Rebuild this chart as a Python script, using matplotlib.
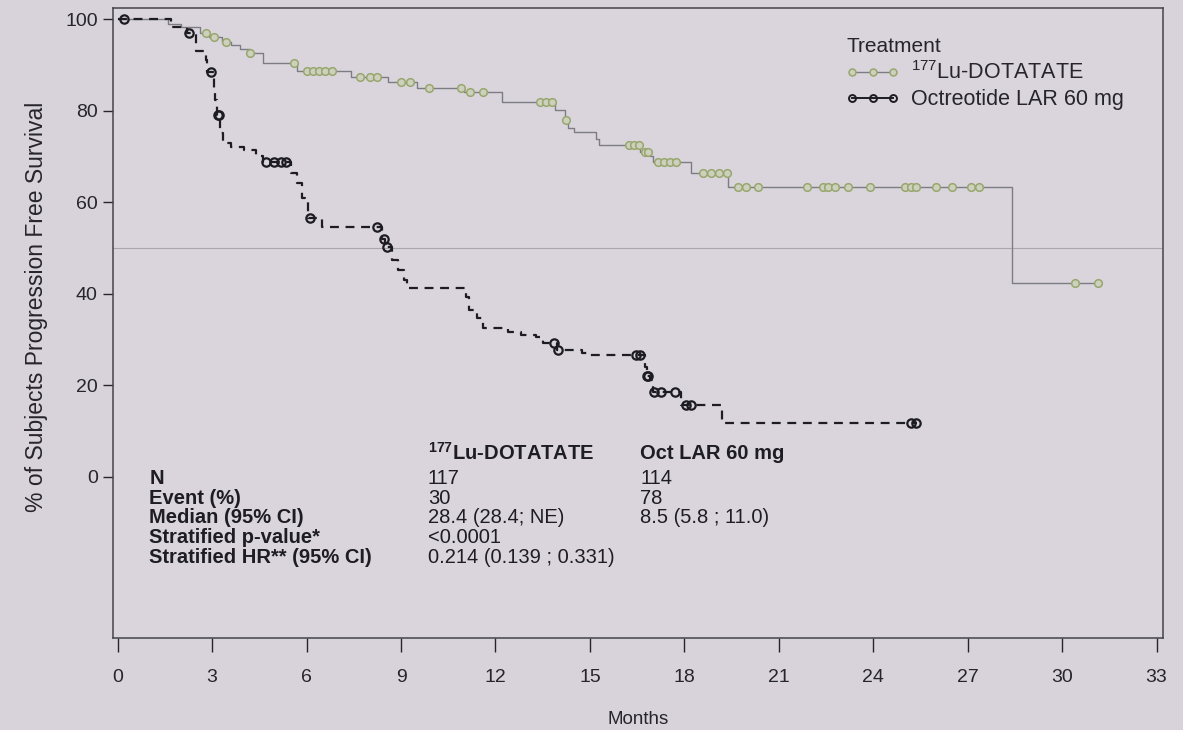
import numpy as np
import matplotlib.pyplot as plt
from matplotlib.lines import Line2D

plt.rcParams['font.family'] = ['Liberation Sans', 'DejaVu Sans']
plt.rcParams['mathtext.default'] = 'regular'

# Kaplan-Meier steps: (month, % progression free after the drop)
lu_times = [0, 1.6, 2.0, 2.6, 2.9, 3.3, 3.6, 3.9, 4.2, 4.6, 5.7, 7.4, 8.6, 9.5, 11.0,
            12.2, 13.9, 14.2, 14.3, 14.5, 15.2, 15.3, 16.6, 16.9, 17.0, 18.2, 19.4, 28.4]
lu_surv = [100, 99.0, 98.3, 97.0, 96.0, 95.0, 94.3, 93.5, 92.6, 90.4, 88.6, 87.3, 86.2, 85.0, 84.0,
           81.9, 80.1, 78.0, 76.2, 75.3, 73.7, 72.5, 71.0, 70.0, 68.8, 66.4, 63.3, 42.4]
lu_end = 31.2
lu_censor = [2.8, 3.05, 3.45, 4.2, 5.6, 6.0, 6.2, 6.4, 6.6, 6.8, 7.7, 8.0, 8.25, 9.0, 9.3,
             9.9, 10.9, 11.2, 11.6, 13.4, 13.6, 13.8, 14.25, 16.25, 16.4, 16.55, 16.75, 16.85,
             17.15, 17.35, 17.55, 17.75, 18.6, 18.85, 19.1, 19.35, 19.7, 19.95, 20.35, 21.9,
             22.4, 22.55, 22.8, 23.2, 23.9, 25.0, 25.2, 25.35, 26.0, 26.5, 27.1, 27.35, 30.4, 31.15]

oct_times = [0, 1.7, 2.2, 2.5, 2.8, 2.85, 3.05, 3.1, 3.15, 3.25, 3.35, 3.6, 4.0, 4.4, 4.6,
             5.5, 5.7, 5.85, 5.95, 6.05, 6.5, 8.4, 8.5, 8.7, 8.9, 9.1, 9.2, 11.05, 11.15, 11.4,
             11.6, 12.4, 12.8, 13.3, 13.5, 13.95, 14.75, 15.0, 16.75, 16.8, 16.9, 17.0, 17.9, 19.2]
oct_surv = [100, 98.3, 96.9, 93.0, 91.0, 88.4, 85.0, 82.3, 79.0, 75.0, 73.0, 72.0, 71.4, 70.0, 68.8,
            66.4, 64.2, 61.0, 60.0, 56.5, 54.6, 52.0, 50.2, 47.4, 45.2, 43.0, 41.3, 39.3, 36.5, 34.7,
            32.5, 31.7, 31.0, 30.6, 29.3, 27.7, 27.0, 26.6, 24.0, 22.0, 21.2, 18.6, 15.7, 11.8]
oct_end = 25.4
oct_censor = [0.2, 2.25, 2.95, 3.18, 3.22, 4.7, 4.95, 5.2, 5.35, 6.1, 8.25, 8.45, 8.55, 13.85,
              14.0, 16.45, 16.6, 16.8, 16.85, 17.05, 17.25, 17.7, 18.05, 18.2, 25.2, 25.35]

ticks_x = list(range(0, 34, 3))
ticks_y = [0, 20, 40, 60, 80, 100]

table_rows = ['N', 'Event (%)', 'Median (95% CI)', 'Stratified p-value*', 'Stratified HR** (95% CI)']
table_lu = ['117', '30', '28.4 (28.4; NE)', '<0.0001', '0.214 (0.139 ; 0.331)']
table_oct = ['114', '78', '8.5 (5.8 ; 11.0)', '', '']

BG = '#d8d3da'
TXT = '#26252b'
LU_LINE = '#7d7c84'
LU_MARK = '#98a66e'
OCT = '#1c1c22'


def km_value(times, surv, t):
    idx = np.searchsorted(times, t, side='right') - 1
    return np.array(surv)[idx]


fig = plt.figure(figsize=(11.83, 7.30), dpi=100, facecolor=BG)
ax = fig.add_axes([0.0955, 0.126, 0.8875, 0.863], facecolor='#dad5dc')

ax.axhline(50, color='#aaa6ae', lw=0.8, zorder=1)

ax.step(lu_times + [lu_end], lu_surv + [lu_surv[-1]], where='post', color=LU_LINE, lw=1.0, zorder=2)
ax.plot(lu_censor, km_value(lu_times, lu_surv, lu_censor), 'o', ms=5.5, mfc='#cdd0bd',
        mec=LU_MARK, mew=1.1, zorder=3)

ax.step(oct_times + [oct_end], oct_surv + [oct_surv[-1]], where='post', color=OCT, lw=1.6,
        ls=(0, (4, 3)), zorder=4)
ax.plot(oct_censor, km_value(oct_times, oct_surv, oct_censor), 'o', ms=6, mfc='none',
        mec=OCT, mew=1.6, zorder=5)

ax.set_xlim(-0.15, 33.2)
ax.set_ylim(-35.2, 102.4)
ax.set_xticks(ticks_x)
ax.set_yticks(ticks_y)
ax.tick_params(axis='x', length=10, width=1, pad=12, labelsize=14, colors=TXT)
ax.tick_params(axis='y', length=7, width=1, pad=4, labelsize=14, colors=TXT)
for s in ax.spines.values():
    s.set_color('#45444b')
    s.set_linewidth(1.1)

ax.set_xlabel('Months', fontsize=13.5, color=TXT, labelpad=18)
ax.set_ylabel('% of Subjects Progression Free Survival', fontsize=16.5, color=TXT)
ax.yaxis.set_label_coords(-0.062, 0.525)

handles = [
    Line2D([], [], color=LU_LINE, lw=1.0, marker='o', ms=5, mfc='#cdd0bd', mec=LU_MARK, mew=1.1),
    Line2D([], [], color=OCT, lw=1.4, marker='o', ms=5, mfc='none', mec=OCT, mew=1.4),
]
leg = ax.legend(handles, [r'$^{177}$Lu-DOTATATE', 'Octreotide LAR 60 mg'], title='Treatment',
                loc='upper left', bbox_to_anchor=(0.69, 0.968), frameon=False, numpoints=3,
                fontsize=15.5, title_fontsize=15, handlelength=2.5, handletextpad=0.5,
                labelspacing=0.25, borderaxespad=0)
leg._legend_box.align = 'left'
for t in leg.get_texts():
    t.set_color(TXT)
leg.get_title().set_color(TXT)

# summary table inside the plot
col_x = [1.0, 9.85, 16.6]
row_y = [-0.4, -4.7, -8.9, -13.2, -17.6]
tkw = dict(fontsize=14.5, color='#1e1d23', va='center', ha='left')
ax.text(col_x[1], 5.2, r'$^{177}$Lu-DOTATATE', fontweight='bold', **tkw)
ax.text(col_x[2], 5.2, 'Oct LAR 60 mg', fontweight='bold', **tkw)
for y, lab, a, b in zip(row_y, table_rows, table_lu, table_oct):
    ax.text(col_x[0], y, lab, fontweight='bold', **tkw)
    ax.text(col_x[1], y, a, **tkw)
    ax.text(col_x[2], y, b, **tkw)

fig.savefig('out.png', dpi=100, facecolor=BG)
